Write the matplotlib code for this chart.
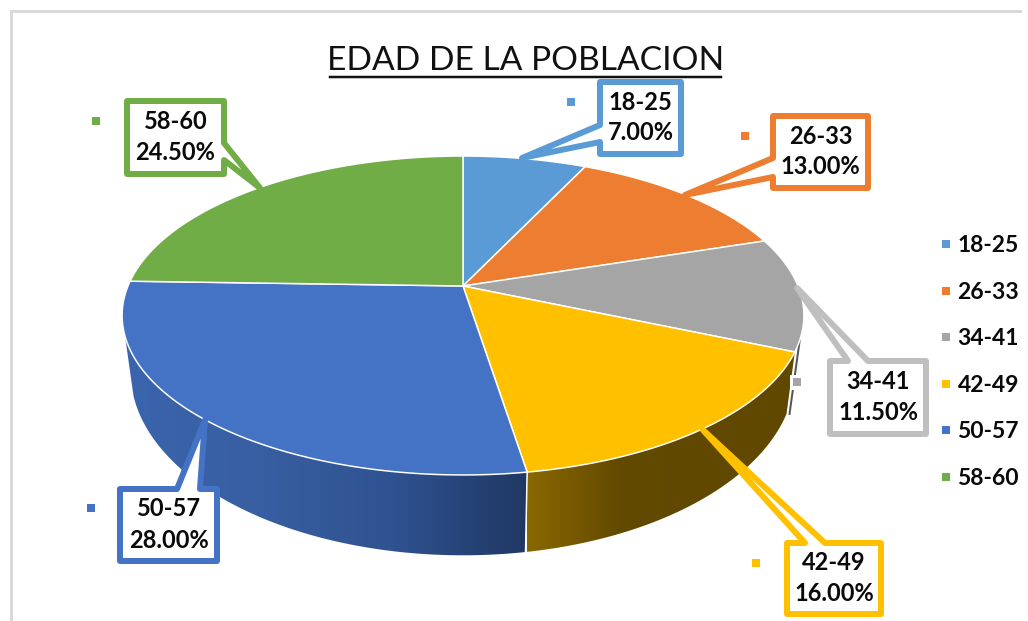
import numpy as np
import matplotlib
matplotlib.use('Agg')
import matplotlib.pyplot as plt
from matplotlib.patches import Polygon
from matplotlib.lines import Line2D

categorias = ['18-25', '26-33', '34-41', '42-49', '50-57', '58-60']
porcentajes = [7.0, 13.0, 11.5, 16.0, 28.0, 24.5]
colores = ['#5B9BD5', '#ED7D31', '#A5A5A5', '#FFC000', '#4472C4', '#70AD47']
titulo = 'EDAD DE LA POBLACION'

plt.rcParams['font.family'] = ['Lato', 'DejaVu Sans']
PX = 0.72  # 1 px in points at dpi 100


def cima(theta):
    # perspective view of the top disc, theta clockwise from 12 o'clock
    t = np.radians(theta)
    u, v = np.sin(t), np.cos(t)
    w = 1 + 0.185 * v
    return 463 + 335 * u / w, 286 - 154 * v / w


def base(theta):
    # lower rim of the cylinder
    x, y = cima(theta)
    return 463 + 0.975 * (x - 463), 286 + 1.15 * (y - 286) + 52


def lado(a, b):
    # outline of the side wall between two angles
    th = np.linspace(a, b, 80)
    xs, ys = cima(th)
    xb, yb = base(th[::-1])
    return np.column_stack([np.r_[xs, xb], np.r_[ys, yb]])


fig = plt.figure(figsize=(10.28, 6.21), dpi=100)
ax = fig.add_axes([0, 0, 1, 1])
ax.axis('off')

# chart frame, only top and left are visible
ax.plot([11, 11, 1020], [621, 11, 11], color='#D9D9D9', lw=3 * PX, solid_joinstyle='miter', zorder=1)

# slice limits from the values
limites = np.r_[0, np.cumsum(porcentajes)] * 3.6

# side walls
poly = lado(limites[4], 252)
parche = Polygon(poly, closed=True, fc='none', ec='none')
ax.add_patch(parche)
grad = np.linspace(0, 1, 256).reshape(1, -1)
cmap_azul = matplotlib.colors.LinearSegmentedColormap.from_list('az', ['#3A64AC', '#385FA2', '#2F5290', '#203864'])
im = ax.imshow(grad, extent=[122, 527, 621, 0], cmap=cmap_azul, aspect='auto', zorder=2)
im.set_clip_path(parche)

poly = lado(limites[3], limites[4])
parche2 = Polygon(poly, closed=True, fc='none', ec='none')
ax.add_patch(parche2)
cmap_ocre = matplotlib.colors.LinearSegmentedColormap.from_list('oc', ['#8A6800', '#634A00', '#614800', '#614800'])
im2 = ax.imshow(grad, extent=[527, 800, 621, 0], cmap=cmap_ocre, aspect='auto', zorder=2)
im2.set_clip_path(parche2)
ax.set_xlim(0, 1028)
ax.set_ylim(621, 0)

# dark sliver of the grey slice wall
x1, y1 = cima(limites[3] - 4)
x2, y2 = base(limites[3])
ax.plot([x1, x2 + 3], [y1, y2], color='#555555', lw=2 * PX, zorder=2)
ax.plot(*zip(base(limites[4]), cima(limites[4])), color='white', lw=1.5 * PX, zorder=3)

# top of the pie
for i, col in enumerate(colores):
    th = np.linspace(limites[i], limites[i + 1], 80)
    xs, ys = cima(th)
    pts = np.column_stack([np.r_[463, xs], np.r_[286, ys]])
    ax.add_patch(Polygon(pts, closed=True, fc=col, ec='white', lw=1.5 * PX, zorder=4))

# labels: box limits and tail (two roots on the box, tip on the pie)
cajas = [
    (600, 681, 82, 154, 'left', (125, 142), (522, 158)),
    (773, 868, 116, 188, 'left', (158, 177), (685, 195)),
    (830, 926, 361, 434, 'top', (848, 868), (797, 288)),
    (787, 881, 543, 614, 'top', (805, 825), (703, 430)),
    (120, 217, 489, 561, 'top', (177, 200), (205, 420)),
    (127, 224, 101, 174, 'right', (143, 160), (260, 188)),
]
marcas = [(571, 102), (745, 136), (797, 382), (756, 563), (91, 508), (96, 121)]
bordes = ['#5B9BD5', '#ED7D31', '#BFBFBF', '#FFC000', '#4472C4', '#70AD47']

for i, (x0, x1, y0, y1, sitio, raiz, punta) in enumerate(cajas):
    if sitio == 'left':
        pts = [(x0, y0), (x1, y0), (x1, y1), (x0, y1), (x0, raiz[1]), punta, (x0, raiz[0])]
    elif sitio == 'right':
        pts = [(x0, y0), (x1, y0), (x1, raiz[0]), punta, (x1, raiz[1]), (x1, y1), (x0, y1)]
    else:
        pts = [(x0, y0), (raiz[0], y0), punta, (raiz[1], y0), (x1, y0), (x1, y1), (x0, y1)]
    ax.add_patch(Polygon(pts, closed=True, fc='white', ec=bordes[i], lw=6 * PX, joinstyle='round', zorder=6))
    xc = (x0 + x1) / 2
    yc = (y0 + y1) / 2
    ax.text(xc, yc - 16, categorias[i], ha='center', va='center', fontsize=17, fontweight='bold', color='#0A0A0A', zorder=7)
    ax.text(xc, yc + 15, '{:.2f}%'.format(porcentajes[i]), ha='center', va='center', fontsize=17, fontweight='bold', color='#0A0A0A', zorder=7)
    # small key next to each label
    mx, my = marcas[i]
    if i == 2:
        ax.plot([mx], [my], 's', ms=15 * PX, color='white', mew=0, zorder=5)
    ax.plot([mx], [my], 's', ms=8.7 * PX, color=colores[i], mew=0, zorder=5)

# title
ax.text(525.5, 61, titulo, ha='center', va='center', fontsize=24.1, color='#111111', zorder=7)
ax.plot([330, 721], [76.5, 76.5], color='#111111', lw=2.5 * PX, zorder=7)

# legend
handles = [Line2D([], [], ls='none', marker='s', ms=8.5 * PX, mew=0, color=c) for c in colores]
ax.legend(handles, categorias, loc='center left', bbox_to_anchor=(914 / 1028, 1 - 362 / 621), frameon=False,
          prop={'size': 16.5, 'weight': 'bold'}, labelspacing=1.11, handletextpad=0.0, handlelength=1.0, labelcolor='#0A0A0A')

fig.savefig('out.png', dpi=100)
plt.close()
